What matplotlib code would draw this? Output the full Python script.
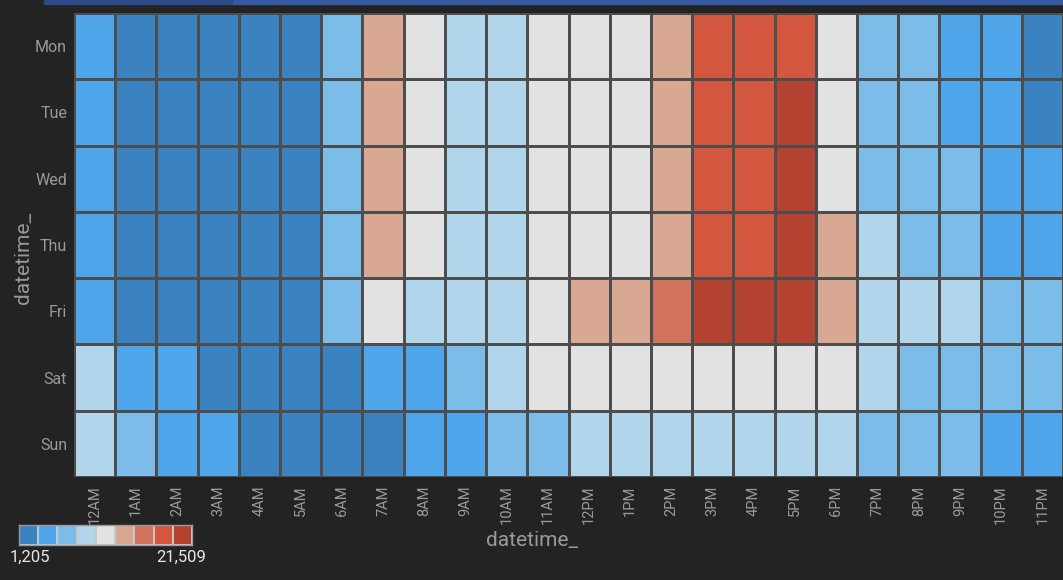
import numpy as np
import matplotlib
matplotlib.use("Agg")
import matplotlib.pyplot as plt
from matplotlib.colors import ListedColormap, BoundaryNorm
from matplotlib.patches import Rectangle

plt.rcParams['font.family'] = ['Roboto', 'DejaVu Sans']

days = ["Mon", "Tue", "Wed", "Thu", "Fri", "Sat", "Sun"]
hours = ["12AM", "1AM", "2AM", "3AM", "4AM", "5AM", "6AM", "7AM", "8AM", "9AM", "10AM", "11AM",
         "12PM", "1PM", "2PM", "3PM", "4PM", "5PM", "6PM", "7PM", "8PM", "9PM", "10PM", "11PM"]

mon = [4600, 2400, 1800, 1500, 1400, 2300, 6900, 13600, 11200, 9100, 9300, 10700,
       11400, 11600, 13700, 18100, 18300, 18800, 11900, 7100, 6300, 4900, 4000, 3100]
tue = [4300, 2000, 1500, 1300, 1205, 2200, 6800, 13800, 11100, 9000, 9400, 10800,
       11300, 11500, 13900, 18500, 18900, 19600, 12100, 7200, 6400, 5100, 4200, 3300]
wed = [4400, 2100, 1600, 1350, 1250, 2250, 6900, 13900, 11200, 9100, 9500, 10900,
       11400, 11600, 14000, 18600, 19000, 19700, 12200, 7400, 6600, 6000, 5000, 3900]
thu = [4500, 2150, 1650, 1400, 1300, 2300, 7000, 14000, 11300, 9200, 9600, 11000,
       11500, 11700, 14100, 18700, 19100, 19800, 12700, 8100, 7000, 6200, 5200, 4100]
fri = [4700, 2300, 1700, 1450, 1350, 2350, 7200, 11000, 9800, 9600, 9900, 11200,
       12800, 13200, 15200, 19400, 21509, 20800, 13000, 9000, 8500, 8100, 7300, 6200]
sat = [8200, 5200, 3800, 3200, 2600, 2500, 3000, 4200, 5500, 6500, 8700, 10400,
       11100, 11500, 11600, 11700, 11600, 11400, 10700, 8400, 7800, 7300, 6900, 6100]
sun = [8600, 6400, 5000, 4000, 2800, 2300, 2100, 2600, 3700, 4600, 6200, 6900,
       8300, 8800, 9100, 9300, 9400, 9200, 8900, 7600, 7200, 6500, 5300, 4300]

palette = ["#3b82c0", "#4ea5ea", "#7bbce9", "#b1d5eb", "#e2e2e2",
           "#d9a893", "#d1735c", "#d3573e", "#b44230"]

values = np.array([mon, tue, wed, thu, fri, sat, sun], dtype=float)
vmin, vmax = values.min(), values.max()
bounds = np.linspace(vmin, vmax, len(palette) + 1)
cmap = ListedColormap(palette)
norm = BoundaryNorm(bounds, cmap.N)

W, H = 1063, 580
bg = "#232323"
fig = plt.figure(figsize=(W / 100, H / 100), dpi=100, facecolor=bg)

# top UI strip
fig.patches.append(Rectangle((44 / W, 1 - 4 / H), (233 - 44) / W, 4 / H,
                             transform=fig.transFigure, color="#2b4a86", zorder=0))
fig.patches.append(Rectangle((233 / W, 1 - 4 / H), (W - 233) / W, 4 / H,
                             transform=fig.transFigure, color="#3559a0", zorder=0))

ax = fig.add_axes([74 / W, (H - 477) / H, (W - 74) / W, (477 - 13) / H])
ax.set_facecolor(bg)
ax.pcolormesh(values, cmap=cmap, norm=norm, edgecolors="#4d4d4d", linewidth=1.8)
ax.set_xlim(0, len(hours))
ax.set_ylim(len(days), 0)
ax.set_xticks(np.arange(len(hours)) + 0.5)
ax.set_xticklabels(hours, rotation=90, fontsize=10.5, color="#9a9a9a")
ax.set_yticks(np.arange(len(days)) + 0.5)
ax.set_yticklabels(days, fontsize=11.5, color="#9a9a9a")
ax.tick_params(axis="both", length=0)
ax.tick_params(axis="x", pad=6)
ax.tick_params(axis="y", pad=5)
for s in ax.spines.values():
    s.set_visible(False)

fig.text(532 / W, 1 - 541 / H, "datetime_", color="#9a9a9a", fontsize=15,
         ha="center", va="center")
fig.text(24 / W, 1 - 258 / H, "datetime_", color="#9a9a9a", fontsize=15,
         ha="center", va="center", rotation=90)

# legend
lax = fig.add_axes([19 / W, (H - 545) / H, (192 - 19) / W, 20 / H])
lax.pcolormesh(np.arange(len(palette) + 1), [0, 1], np.arange(len(palette))[None, :] + 0.5,
               cmap=cmap, norm=BoundaryNorm(np.arange(len(palette) + 1), cmap.N),
               edgecolors="#c8c8c8", linewidth=1.2)
lax.set_xlim(0, len(palette))
lax.set_ylim(0, 1)
lax.set_xticks([])
lax.set_yticks([])
for s in lax.spines.values():
    s.set_color("#9a9a9a")
    s.set_linewidth(1)
fig.text(10 / W, 1 - 557 / H, f"{int(vmin):,}", color="#e6e6e6", fontsize=12,
         ha="left", va="center")
fig.text(206 / W, 1 - 557 / H, f"{int(vmax):,}", color="#e6e6e6", fontsize=12,
         ha="right", va="center")

fig.savefig("out.png", dpi=100, facecolor=bg)
